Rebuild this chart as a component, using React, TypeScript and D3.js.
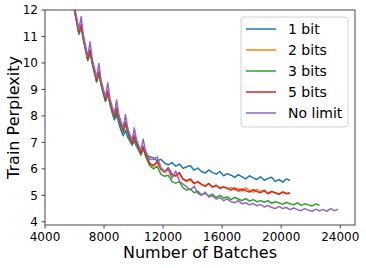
import React from 'react';
import * as d3 from 'd3';

// batch positions: denser while the curves still saw-tooth, sparser later
const earlyBatches = [
  5700, 5850, 6000, 6150, 6300, 6450, 6600, 6750, 6900, 7050, 7200, 7350, 7500,
  7650, 7800, 7950, 8100, 8250, 8400, 8550, 8700, 8850, 9000, 9150, 9300, 9450,
  9600, 9750, 9900, 10050, 10200, 10350, 10500, 10650, 10800, 10950, 11100,
];
const lateBatches = [
  11350, 11600, 11850, 12100, 12350, 12600, 12850, 13100, 13350, 13600, 13850,
  14100, 14350, 14600, 14850, 15100, 15350, 15600, 15850, 16100, 16350, 16600,
  16850, 17100, 17350, 17600, 17850, 18100, 18350, 18600, 18850, 19100, 19350,
  19600, 19850, 20100, 20350, 20600, 20850, 21100, 21350, 21600, 21850, 22100,
  22350, 22600, 22850, 23100, 23350, 23600, 23850,
];
const batches = [...earlyBatches, ...lateBatches];

const oneBit = [
  12.3, 12.55, 12.0, 11.55, 11.1, 11.4, 10.9, 10.5, 10.1, 10.45, 10.0, 9.65, 9.3,
  9.62, 9.2, 8.85, 8.55, 8.85, 8.45, 8.12, 7.85, 8.05, 7.72, 7.45, 7.25, 7.45,
  7.2, 7.05, 6.9, 7.05, 6.85, 6.7, 6.6, 6.75, 6.6, 6.5, 6.45,
  6.42, 6.3, 6.36, 6.22, 6.15, 6.24, 6.1, 6.18, 6.02, 6.08, 6.12, 5.95, 6.03,
  5.9, 5.84, 5.96, 5.86, 5.8, 5.9, 5.74, 5.82, 5.76, 5.68, 5.78, 5.7, 5.62, 5.74,
  5.66, 5.6, 5.7, 5.57, 5.64, 5.68, 5.52, 5.6, 5.5, 5.62, 5.56,
];
const twoBits = [
  12.32, 12.55, 12.0, 11.57, 11.12, 11.4, 10.92, 10.52, 10.12, 10.45, 10.02,
  9.67, 9.32, 9.63, 9.22, 8.9, 8.6, 8.9, 8.52, 8.22, 7.95, 8.25, 7.92, 7.63,
  7.42, 7.72, 7.42, 7.15, 6.94, 7.22, 6.95, 6.73, 6.55, 6.8, 6.54, 6.35, 6.18,
  6.1, 6.25, 5.98, 5.86, 5.98, 5.78, 5.72, 5.82, 5.6, 5.52, 5.6, 5.44, 5.5, 5.4,
  5.36, 5.46, 5.3, 5.36, 5.28, 5.34, 5.24, 5.3, 5.2, 5.26, 5.16, 5.28, 5.18,
  5.12, 5.22, 5.14, 5.2, 5.08, 5.16, 5.1, 5.04, 5.14, 5.08, 5.1,
];
const threeBits = [
  12.3, 12.52, 11.98, 11.53, 11.08, 11.38, 10.88, 10.48, 10.08, 10.42, 9.98,
  9.63, 9.28, 9.6, 9.18, 8.85, 8.55, 8.86, 8.48, 8.18, 7.9, 8.22, 7.88, 7.6,
  7.38, 7.7, 7.38, 7.12, 6.9, 7.2, 6.92, 6.7, 6.52, 6.78, 6.5, 6.3, 6.12,
  6.0, 6.1, 5.8, 5.72, 5.76, 5.52, 5.46, 5.52, 5.28, 5.2, 5.24, 5.1, 5.16, 5.02,
  5.08, 4.98, 5.04, 4.92, 5.0, 4.9, 4.94, 4.84, 4.92, 4.86, 4.8, 4.88, 4.78,
  4.84, 4.76, 4.8, 4.74, 4.8, 4.7, 4.76, 4.72, 4.66, 4.74, 4.68, 4.64, 4.72,
  4.62, 4.68, 4.64, 4.6, 4.68, 4.62,
];
const fiveBits = [
  12.35, 12.6, 12.05, 11.6, 11.15, 11.45, 10.95, 10.55, 10.15, 10.5, 10.05, 9.7,
  9.35, 9.68, 9.25, 8.92, 8.62, 8.94, 8.55, 8.25, 7.98, 8.3, 7.95, 7.67, 7.45,
  7.77, 7.45, 7.19, 6.97, 7.27, 6.99, 6.77, 6.59, 6.85, 6.58, 6.38, 6.21,
  6.12, 6.28, 6.0, 5.9, 6.04, 5.8, 5.74, 5.86, 5.62, 5.55, 5.62, 5.46, 5.52,
  5.42, 5.34, 5.44, 5.32, 5.38, 5.26, 5.32, 5.27, 5.2, 5.28, 5.16, 5.24, 5.18,
  5.12, 5.22, 5.14, 5.1, 5.18, 5.06, 5.14, 5.1, 5.04, 5.12, 5.06, 5.08,
];
const noLimit = [
  12.45, 12.9, 12.15, 11.7, 11.25, 11.75, 11.05, 10.65, 10.25, 10.8, 10.15, 9.8,
  9.45, 9.98, 9.35, 9.02, 8.72, 9.25, 8.65, 8.35, 8.08, 8.6, 8.05, 7.78, 7.55,
  8.05, 7.55, 7.3, 7.08, 7.55, 7.1, 6.88, 6.7, 7.12, 6.7, 6.5, 6.35,
  6.35, 6.45, 6.05, 5.9, 5.98, 5.65, 5.92, 5.55, 5.42, 5.32, 5.2, 5.34, 5.08,
  5.0, 5.12, 4.94, 4.98, 4.86, 4.92, 4.8, 4.86, 4.76, 4.72, 4.8, 4.68, 4.72,
  4.64, 4.7, 4.6, 4.66, 4.56, 4.62, 4.54, 4.5, 4.58, 4.5, 4.54, 4.46, 4.52, 4.46,
  4.42, 4.5, 4.44, 4.4, 4.48, 4.42, 4.46, 4.4, 4.5, 4.42, 4.47,
];

const seriesNames = ['1 bit', '2 bits', '3 bits', '5 bits', 'No limit'];
const seriesValues = [oneBit, twoBits, threeBits, fiveBits, noLimit];
const colors = ['#1f77b4', '#ff7f0e', '#2ca02c', '#d62728', '#9467bd'];

const xTicks = [4000, 8000, 12000, 16000, 20000, 24000];
const yTicks = [4, 5, 6, 7, 8, 9, 10, 11, 12];

const W = 366;
const H = 268;
const margin = { top: 10, right: 11, bottom: 43, left: 45 };
const font = 'DejaVu Sans, sans-serif';

export default function App() {
  const x = d3.scaleLinear().domain([4000, 25000]).range([margin.left, W - margin.right]);
  const y = d3.scaleLinear().domain([3.88, 12]).range([H - margin.bottom, margin.top]);
  const line = d3.line<[number, number]>().x(d => x(d[0])).y(d => y(d[1]));

  const x0 = margin.left, x1 = W - margin.right;
  const y0 = margin.top, y1 = H - margin.bottom;

  return (
    <svg width={W} height={H} style={{ position: 'absolute', left: 0, top: 0 }} fontFamily={font}>
      <rect width={W} height={H} fill="white" />
      <defs>
        <clipPath id="plot">
          <rect x={x0} y={y0} width={x1 - x0} height={y1 - y0} />
        </clipPath>
      </defs>

      <g clipPath="url(#plot)">
        {seriesValues.map((vals, i) => (
          <path
            key={seriesNames[i]}
            d={line(vals.map((v, j) => [batches[j], v] as [number, number])) || ''}
            fill="none"
            stroke={colors[i]}
            strokeWidth={1.5}
            strokeLinejoin="round"
          />
        ))}
      </g>

      {/* frame */}
      <rect x={x0} y={y0} width={x1 - x0} height={y1 - y0} fill="none" stroke="#333" strokeWidth={0.9} />

      {/* x ticks */}
      {xTicks.map(t => (
        <g key={t} transform={`translate(${x(t)},${y1})`}>
          <line y2={3.5} stroke="#333" strokeWidth={0.9} />
          <text y={16} textAnchor="middle" fontSize={12} fill="#000">{t}</text>
        </g>
      ))}
      {/* y ticks */}
      {yTicks.map(t => (
        <g key={t} transform={`translate(${x0},${y(t)})`}>
          <line x2={-3.5} stroke="#333" strokeWidth={0.9} />
          <text x={-7} dy="0.35em" textAnchor="end" fontSize={12} fill="#000">{t}</text>
        </g>
      ))}

      <text x={(x0 + x1) / 2} y={258} textAnchor="middle" fontSize={16} fill="#000">Number of Batches</text>
      <text transform={`translate(19,${(y0 + y1) / 2}) rotate(-90)`} textAnchor="middle" fontSize={16} fill="#000">
        Train Perplexity
      </text>

      {/* legend */}
      <rect x={241} y={17} width={107} height={110} rx={3} fill="white" fillOpacity={0.8} stroke="#ccc" strokeWidth={0.9} />
      {seriesNames.map((n, i) => (
        <g key={n} transform={`translate(246,${29 + i * 21})`}>
          <line x2={30} stroke={colors[i]} strokeWidth={1.5} />
          <text x={42} dy="0.35em" fontSize={14} fill="#000">{n}</text>
        </g>
      ))}
    </svg>
  );
}
